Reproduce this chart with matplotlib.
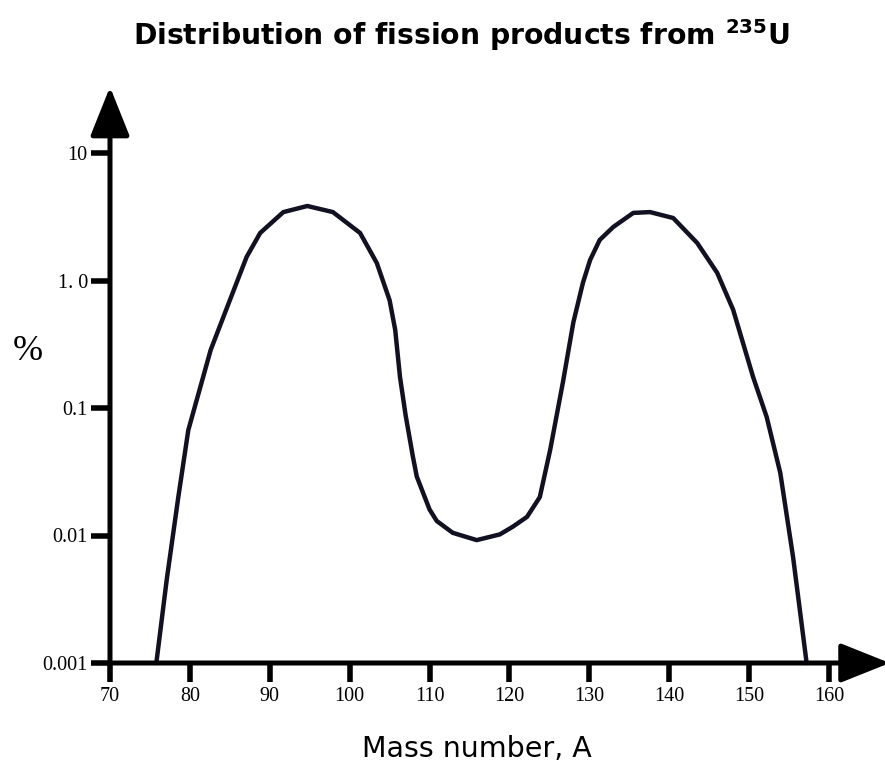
import matplotlib
matplotlib.use("Agg")
import matplotlib.pyplot as plt
from matplotlib.ticker import FixedLocator, FixedFormatter, NullLocator

# Fission yield curve of U-235
mass_number = [75.8, 77.1, 78.55, 79.8, 82.6, 85.0, 87.1, 88.8, 91.7, 94.7,
               97.9, 101.3, 103.4, 105.0, 105.7, 106.3, 107.0, 107.9, 108.4,
               110.0, 110.9, 112.9, 115.9, 118.8, 120.4, 122.2, 123.8, 125.1,
               126.7, 128.0, 129.2, 130.1, 131.3, 133.0, 135.5, 137.6, 140.5,
               143.5, 146.0, 148.0, 150.5, 152.2, 153.9, 155.5, 157.2]
yield_pct = [0.001, 0.0045, 0.020, 0.067, 0.285, 0.70, 1.53, 2.36, 3.44, 3.84,
             3.44, 2.36, 1.37, 0.70, 0.41, 0.175, 0.088, 0.042, 0.029,
             0.016, 0.013, 0.0105, 0.0092, 0.0102, 0.0117, 0.014, 0.020, 0.047,
             0.16, 0.47, 0.96, 1.45, 2.08, 2.63, 3.39, 3.44, 3.09,
             1.97, 1.15, 0.59, 0.175, 0.085, 0.031, 0.0068, 0.001]

x_ticks = [70, 80, 90, 100, 110, 120, 130, 140, 150, 160]
y_ticks = [0.001, 0.01, 0.1, 1.0, 10]
y_tick_labels = ["0.001", "0.01", "0.1", "1. 0", "10"]

plt.rcParams["mathtext.fontset"] = "dejavusans"

W, H = 885, 765
fig = plt.figure(figsize=(W / 100, H / 100), dpi=100)
# axes box spans A = 70..160 and 0.001..10
ax = fig.add_axes([110 / W, 1 - 663 / H, 719 / W, 510 / H])
ax.set_yscale("log")
ax.set_xlim(70, 160)
ax.set_ylim(0.001, 10)

for s in ax.spines.values():
    s.set_visible(False)

ax.plot(mass_number, yield_pct, color="#111122", lw=3.2, solid_joinstyle="round",
        solid_capstyle="round", clip_on=False, zorder=3)

# axis lines with arrow heads
arrow = dict(arrowstyle="-|>,head_length=0.8,head_width=0.32", lw=3.6,
             color="black", mutation_scale=38, shrinkA=0, shrinkB=0)
ax.annotate("", xy=(70, 33), xytext=(70, 0.001), arrowprops=arrow,
            annotation_clip=False, zorder=4)
ax.annotate("", xy=(167.6, 0.001), xytext=(70, 0.001), arrowprops=arrow,
            annotation_clip=False, zorder=4)

ax.xaxis.set_major_locator(FixedLocator(x_ticks))
ax.yaxis.set_major_locator(FixedLocator(y_ticks))
ax.yaxis.set_major_formatter(FixedFormatter(y_tick_labels))
ax.yaxis.set_minor_locator(NullLocator())
ax.xaxis.set_minor_locator(NullLocator())
ax.tick_params(direction="out", length=14, width=4, color="black", pad=2,
               labelsize=14.5)
ax.tick_params(axis="x", pad=3)
for lab in ax.get_xticklabels() + ax.get_yticklabels():
    lab.set_fontfamily("Liberation Serif")

fig.text(461 / W, 1 - 35 / H, r"Distribution of fission products from $^{\mathbf{235}}$U",
         ha="center", va="center", fontsize=20.3, fontweight="bold",
         fontfamily="DejaVu Sans")
fig.text(477 / W, 1 - 749 / H, "Mass number, A", ha="center", va="center",
         fontsize=20.5, fontfamily="DejaVu Sans")
fig.text(28 / W, 1 - 352 / H, "%", ha="center", va="center", fontsize=26,
         fontfamily="Liberation Serif")

fig.savefig("out.png", dpi=100, facecolor="white")
